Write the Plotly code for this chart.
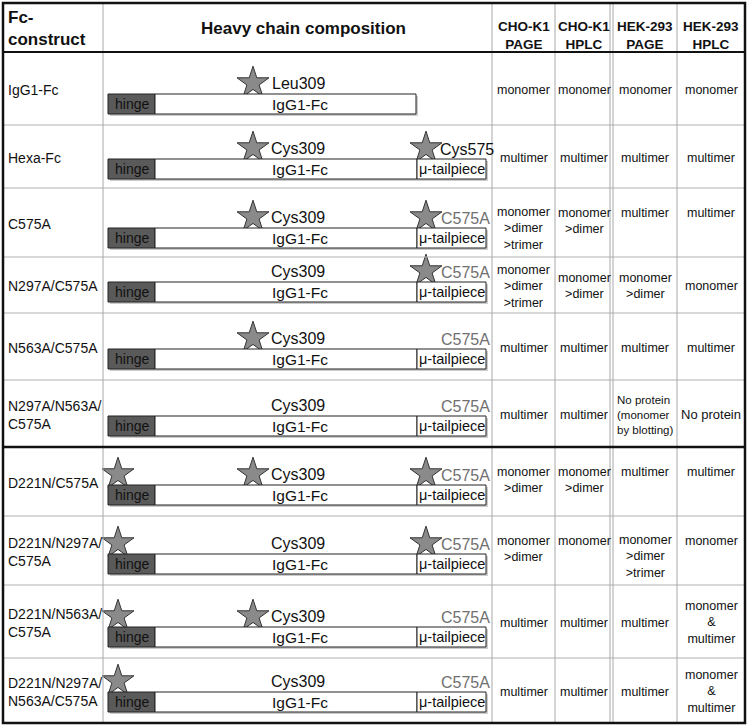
import plotly.graph_objects as go

# ---------------- data ----------------
constructs = ["IgG1-Fc", "Hexa-Fc", "C575A", "N297A/C575A", "N563A/C575A",
              "N297A/N563A/<br>C575A", "D221N/C575A", "D221N/N297A/<br>C575A",
              "D221N/N563A/<br>C575A", "D221N/N297A/<br>N563A/C575A"]
hinge_star = [0, 0, 0, 0, 0, 0, 1, 1, 1, 1]
fc_star = [1, 1, 1, 0, 1, 0, 1, 0, 1, 0]
fc_label = ["Leu309"] + ["Cys309"] * 9
has_tail = [0] + [1] * 9
tail_star = [0, 1, 1, 1, 0, 0, 1, 1, 0, 0]
tail_label = ["", "Cys575"] + ["C575A"] * 8

col_headers = ["CHO-K1<br>PAGE", "CHO-K1<br>HPLC", "HEK-293<br>PAGE", "HEK-293<br>HPLC"]
cho_page = ["monomer", "multimer", "monomer<br>&gt;dimer<br>&gt;trimer",
            "monomer<br>&gt;dimer<br>&gt;trimer", "multimer", "multimer",
            "monomer<br>&gt;dimer", "monomer<br>&gt;dimer", "multimer", "multimer"]
cho_hplc = ["monomer", "multimer", "monomer<br>&gt;dimer", "monomer<br>&gt;dimer",
            "multimer", "multimer", "monomer<br>&gt;dimer", "monomer", "multimer", "multimer"]
hek_page = ["monomer", "multimer", "multimer", "monomer<br>&gt;dimer", "multimer",
            "No protein<br>(monomer<br>by blotting)", "multimer",
            "monomer<br>&gt;dimer<br>&gt;trimer", "multimer", "multimer"]
hek_hplc = ["monomer", "multimer", "multimer", "monomer", "multimer", "No protein",
            "multimer", "monomer", "monomer<br>&amp;<br>multimer", "monomer<br>&amp;<br>multimer"]
results = [cho_page, cho_hplc, hek_page, hek_hplc]
top_aligned_rows = [2, 6, 7]

# ---------------- layout geometry ----------------
W, H = 749, 725
COL_X = [3, 103, 492, 555, 613, 677, 745]
ROW_Y = [3, 52, 125, 188, 257, 313, 380, 447, 516, 585, 658, 723]
HINGE_X0, HINGE_X1, FC_X1, TAIL_X1, FC_ONLY_X1 = 108, 155, 417, 486, 416
FONT = "Liberation Sans, Arial, sans-serif"

fig = go.Figure()
shapes = []
annotations = []

def line(x0, y0, x1, y1, color, width):
    shapes.append(dict(type="line", x0=x0, y0=y0, x1=x1, y1=y1,
                       line=dict(color=color, width=width), layer="above"))

def text(x, y, s, size, color="#111", bold=False, xanchor="center", align="center", yanchor="middle"):
    if bold:
        s = "<b>" + s + "</b>"
    annotations.append(dict(x=x, y=y, xref="x", yref="y", text=s, showarrow=False,
                            xanchor=xanchor, yanchor=yanchor, align=align,
                            font=dict(family=FONT, size=size, color=color)))

# grid lines (light)
for i, y in enumerate(ROW_Y[2:-1]):
    line(COL_X[0], y, COL_X[-1], y, "#b0b0b0", 1)
for x in COL_X[1:-1]:
    line(x, ROW_Y[0], x, ROW_Y[-1], "#a8a8a8", 1)
line(COL_X[4] - 3, ROW_Y[0], COL_X[4] - 3, ROW_Y[-1], "#a8a8a8", 1)
# heavy lines
line(COL_X[0], ROW_Y[1], COL_X[-1], ROW_Y[1], "#111", 2)
line(COL_X[0], ROW_Y[7], COL_X[-1], ROW_Y[7], "#111", 2.5)
shapes.append(dict(type="rect", x0=COL_X[0], y0=ROW_Y[0], x1=COL_X[-1], y1=ROW_Y[-1],
                   line=dict(color="#111", width=2.5), fillcolor="rgba(0,0,0,0)", layer="above"))

# headers
text(6, (ROW_Y[0] + ROW_Y[1]) / 2 + 1, "Fc-<br>construct", 17, bold=True, xanchor="left", align="left")
text((COL_X[1] + COL_X[2]) / 2 + 6, (ROW_Y[0] + ROW_Y[1]) / 2 + 1, "Heavy chain composition", 17, bold=True)
for j, h in enumerate(col_headers):
    text((COL_X[2 + j] + COL_X[3 + j]) / 2, (ROW_Y[0] + ROW_Y[1]) / 2 + 8, h, 13.5, bold=True)

star_x, star_y = [], []
for i, name in enumerate(constructs):
    top, bot = ROW_Y[i + 1], ROW_Y[i + 2]
    mid = (top + bot) / 2
    text(6, mid + 1, name, 14, xanchor="left", align="left")

    bc = bot - 19 if i in (1, 2) else bot - 21
    bt, bb = bc - 10, bc + 10
    end = TAIL_X1 if has_tail[i] else FC_ONLY_X1
    # shadow
    shapes.append(dict(type="rect", x0=HINGE_X0 + 2, y0=bt + 2, x1=end + 2, y1=bb + 2,
                       line=dict(width=0), fillcolor="#cccccc", layer="above"))
    shapes.append(dict(type="rect", x0=HINGE_X0, y0=bt, x1=HINGE_X1, y1=bb,
                       line=dict(color="#222", width=1), fillcolor="#5a5a5a", layer="above"))
    shapes.append(dict(type="rect", x0=HINGE_X1, y0=bt, x1=FC_X1 if has_tail[i] else FC_ONLY_X1, y1=bb,
                       line=dict(color="#222", width=1), fillcolor="white", layer="above"))
    text((HINGE_X0 + HINGE_X1) / 2, bc, "hinge", 14, color="#111")
    text(300, bc, "IgG1-Fc", 15.5)
    if has_tail[i]:
        shapes.append(dict(type="rect", x0=FC_X1, y0=bt, x1=TAIL_X1, y1=bb,
                           line=dict(color="#222", width=1), fillcolor="white", layer="above"))
        text((FC_X1 + TAIL_X1) / 2, bc, "μ-tailpiece", 14.5)
    sy = bt - 11
    text(298, sy, fc_label[i], 16)
    if fc_star[i]:
        star_x.append(253); star_y.append(sy)
    if hinge_star[i]:
        star_x.append(118); star_y.append(sy)
    if has_tail[i]:
        if tail_label[i] == "Cys575":
            text(438, sy + 1, tail_label[i], 16, xanchor="left")
        else:
            text(492, sy + 1, tail_label[i], 16, color="#707070", xanchor="right")
        if tail_star[i]:
            star_x.append(426); star_y.append(sy)

    for j in range(4):
        cx = (COL_X[2 + j] + COL_X[3 + j]) / 2
        s = results[j][i]
        n = s.count("<br>") + 1
        size = 12.5
        align = "center"
        if s.startswith("No protein<br>"):
            size = 11.5; align = "left"
        elif s == "No protein":
            size = 13
        lh = 15.5
        if i in top_aligned_rows:
            cy = top + 25 + (n - 1) * lh / 2
        else:
            cy = mid + 1
        text(cx, cy, s, size, align=align)

fig.add_trace(go.Scatter(x=star_x, y=star_y, mode="markers", hoverinfo="skip",
                         marker=dict(symbol="star", size=24, color="#8a8a8a",
                                     line=dict(color="#333", width=1))))

fig.update_layout(width=W, height=H, margin=dict(l=0, r=0, t=0, b=0),
                  paper_bgcolor="white", plot_bgcolor="white", showlegend=False,
                  shapes=shapes, annotations=annotations,
                  xaxis=dict(range=[0, W], visible=False, fixedrange=True),
                  yaxis=dict(range=[H, 0], visible=False, fixedrange=True))
fig.write_html("out.html", config={"displayModeBar": False})

# remove the browser's default page margin so the figure sits at (0, 0)
with open("out.html", "r", encoding="utf-8") as f:
    html = f.read()
html = html.replace("<head>", "<head><style>html,body{margin:0;padding:0;overflow:hidden}</style>", 1)
with open("out.html", "w", encoding="utf-8") as f:
    f.write(html)
